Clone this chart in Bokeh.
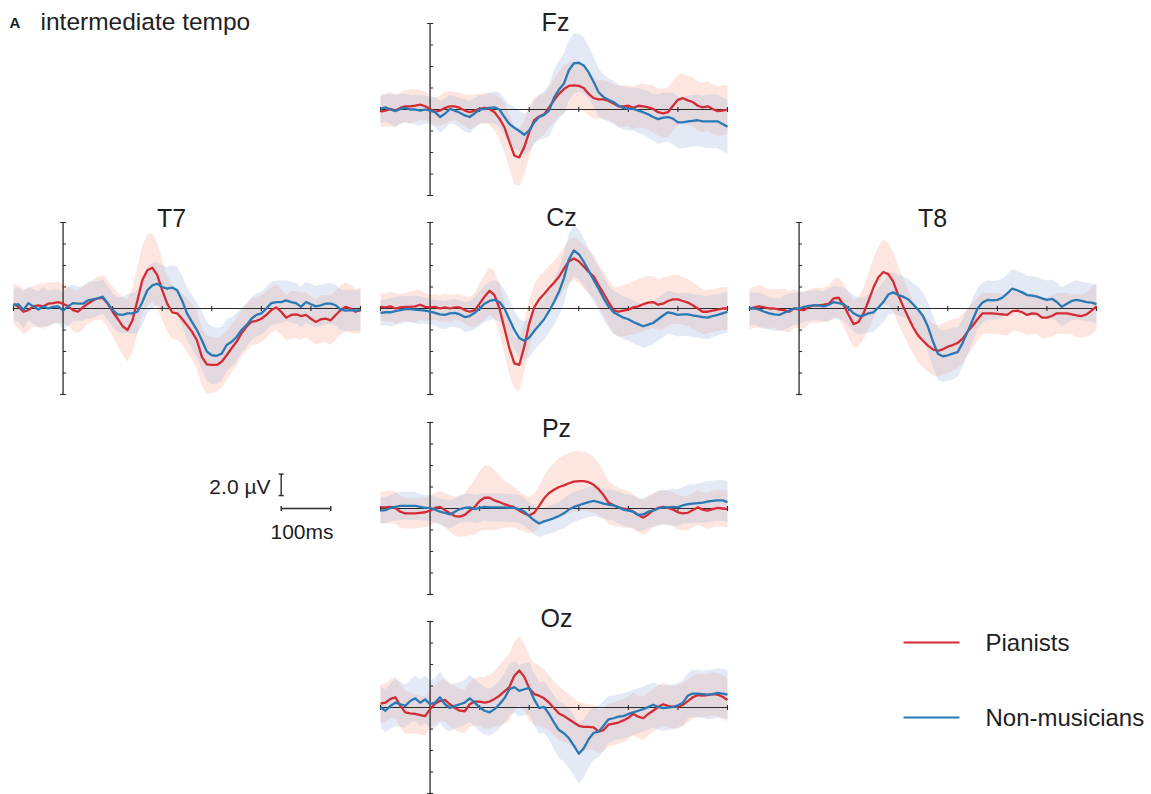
import numpy as np
from bokeh.plotting import figure
from bokeh.models import Range1d
from bokeh.embed import file_html
from bokeh.resources import INLINE
from bokeh.core.properties import value

# ---------------- data (µV, sampled every 10 ms from -100 to 600 ms) ----------------
TIME_MS = list(range(-100, 601, 10))
X_TICKS_MS = [-100, 100, 200, 300, 400, 500, 600]
Y_TICKS_UV = [-8, -6, -4, -2, 0, 2, 4, 6, 8]
GROUPS = ["Pianists", "Non-musicians"]
CHANNELS = ["Fz", "T7", "Cz", "T8", "Pz", "Oz"]
SCALE_UV = 2.0
SCALE_MS = 100

FZ_PIANISTS = [-0.2, -0.1, 0.05, -0.1, 0.15, 0.3, 0.3, 0.35, 0.45, 0.3,
               0.05, -0.2, -0.1, 0.15, 0.3, 0.3, 0.15, -0.1, -0.25, -0.1,
               0.05, 0.15, 0.05, -0.25, -0.85, -1.65, -3.0, -4.3, -4.45, -3.5,
               -2.1, -1.0, -0.65, -0.45, 0.2, 0.85, 1.45, 1.9, 2.2, 2.25,
               2.2, 2.0, 1.45, 1.05, 0.95, 0.95, 0.8, 0.55, 0.3, 0.3,
               0.35, 0.15, 0.35, 0.3, 0.2, 0.05, -0.25, -0.35, -0.25, 0.35,
               0.9, 1.05, 0.85, 0.7, 0.35, 0.2, 0.3, 0.05, -0.15, -0.1,
               0.0]
FZ_PIANISTS_CI = [1.4, 1.5, 1.6, 1.5, 1.4, 1.5, 1.6, 1.5, 1.4, 1.3,
                  1.2, 1.3, 1.4, 1.5, 1.4, 1.3, 1.4, 1.5, 1.6, 1.5,
                  1.4, 1.4, 1.5, 1.7, 2.0, 2.3, 2.5, 2.7, 2.7, 2.5,
                  2.3, 2.1, 2.0, 1.9, 1.9, 2.0, 2.1, 2.2, 2.2, 2.3,
                  2.2, 2.1, 2.0, 1.9, 1.8, 1.8, 1.8, 1.8, 1.9, 1.9,
                  1.9, 2.0, 2.0, 2.1, 2.1, 2.2, 2.2, 2.3, 2.3, 2.3,
                  2.3, 2.3, 2.3, 2.3, 2.3, 2.3, 2.3, 2.3, 2.3, 2.3,
                  2.3]
FZ_NONMUS = [0.05, 0.2, 0.0, -0.15, 0.05, 0.15, 0.0, 0.0, -0.1, 0.0,
             -0.1, -0.25, -0.7, -0.4, 0.05, -0.1, -0.3, -0.55, -0.7, -0.35,
             0.0, 0.05, 0.15, 0.2, 0.0, -0.7, -1.35, -1.7, -2.0, -2.35,
             -1.95, -1.2, -0.7, -0.5, -0.1, 1.1, 1.85, 2.4, 3.65, 4.3,
             4.35, 4.1, 3.45, 2.55, 1.6, 1.15, 0.9, 0.7, 0.35, 0.15,
             0.05, 0.05, -0.1, -0.25, -0.45, -0.7, -0.9, -0.75, -0.7, -0.85,
             -1.2, -1.2, -1.1, -1.05, -1.0, -1.1, -1.1, -1.1, -1.1, -1.35,
             -1.6]
FZ_NONMUS_CI = [1.3, 1.3, 1.4, 1.5, 1.4, 1.3, 1.3, 1.4, 1.4, 1.3,
                1.3, 1.4, 1.5, 1.4, 1.3, 1.3, 1.4, 1.5, 1.5, 1.4,
                1.3, 1.3, 1.4, 1.5, 1.6, 1.7, 1.8, 1.9, 1.9, 1.9,
                1.9, 2.0, 2.1, 2.2, 2.4, 2.6, 2.7, 2.8, 2.8, 2.8,
                2.7, 2.6, 2.4, 2.3, 2.2, 2.1, 2.0, 2.0, 2.0, 2.0,
                2.0, 2.0, 2.1, 2.1, 2.2, 2.2, 2.3, 2.3, 2.3, 2.4,
                2.4, 2.4, 2.4, 2.4, 2.4, 2.4, 2.5, 2.5, 2.5, 2.5,
                2.5]

T7_PIANISTS = [0.45, 0.15, -0.3, -0.15, 0.2, 0.3, 0.2, 0.45, 0.5, 0.6,
               0.45, 0.2, -0.15, -0.3, 0.1, 0.45, 0.75, 0.95, 1.0, 0.45,
               -0.3, -0.95, -1.65, -2.0, -1.1, 0.75, 2.65, 3.55, 3.8, 3.1,
               1.7, 0.45, -0.35, -0.45, -0.95, -1.55, -2.15, -2.95, -4.5, -5.2,
               -5.25, -5.25, -4.95, -4.35, -3.7, -3.1, -2.3, -1.7, -1.25, -1.15,
               -0.95, -0.6, -0.15, 0.1, -0.3, -0.85, -0.6, -0.55, -0.7, -0.6,
               -0.95, -1.25, -1.0, -0.95, -1.1, -0.6, -0.15, 0.15, 0.0, -0.3,
               -0.15]
T7_PIANISTS_CI = [1.9, 2.0, 2.1, 2.0, 1.9, 2.0, 2.1, 2.0, 1.9, 1.9,
                  1.8, 1.8, 1.9, 2.0, 2.0, 1.9, 1.9, 2.0, 2.1, 2.2,
                  2.3, 2.5, 2.7, 2.9, 3.0, 3.1, 3.2, 3.3, 3.2, 3.0,
                  2.8, 2.6, 2.5, 2.4, 2.4, 2.5, 2.6, 2.7, 2.7, 2.7,
                  2.6, 2.5, 2.4, 2.3, 2.2, 2.2, 2.2, 2.2, 2.2, 2.2,
                  2.2, 2.2, 2.1, 2.1, 2.1, 2.1, 2.2, 2.2, 2.2, 2.1,
                  2.1, 2.1, 2.2, 2.2, 2.3, 2.3, 2.3, 2.3, 2.2, 2.1,
                  2.1]
T7_NONMUS = [0.3, 0.4, -0.15, 0.5, 0.2, -0.1, 0.2, 0.0, 0.15, 0.2,
             -0.2, 0.2, 0.5, 0.45, 0.45, 0.75, 0.85, 0.95, 1.1, 0.5,
             -0.15, -0.55, -0.6, -0.45, -0.45, -0.3, 0.6, 1.7, 2.15, 2.3,
             2.0, 1.85, 1.95, 1.7, 0.75, -0.45, -1.25, -2.0, -2.95, -4.0,
             -4.35, -4.4, -4.2, -3.4, -3.1, -2.65, -2.0, -1.55, -0.95, -0.6,
             -0.45, 0.0, 0.5, 0.6, 0.6, 0.75, 0.6, 0.5, 0.15, 0.6,
             0.4, 0.2, 0.3, 0.45, 0.45, 0.3, -0.1, -0.2, -0.15, -0.2,
             -0.15]
T7_NONMUS_CI = [1.5, 1.6, 1.7, 1.6, 1.6, 1.7, 1.8, 1.7, 1.6, 1.6,
                1.7, 1.8, 1.7, 1.6, 1.6, 1.7, 1.7, 1.6, 1.6, 1.6,
                1.6, 1.6, 1.7, 1.8, 1.9, 2.0, 2.1, 2.1, 2.1, 2.0,
                2.0, 2.0, 2.1, 2.2, 2.3, 2.4, 2.5, 2.6, 2.7, 2.7,
                2.7, 2.6, 2.5, 2.4, 2.3, 2.2, 2.1, 2.0, 2.0, 2.0,
                2.0, 2.0, 2.0, 2.0, 2.0, 1.9, 1.9, 1.9, 1.9, 1.9,
                1.9, 1.9, 1.9, 1.9, 1.9, 1.9, 1.9, 1.9, 1.9, 1.9,
                1.9]

CZ_PIANISTS = [0.15, 0.1, 0.2, 0.0, 0.1, 0.15, 0.15, 0.2, 0.35, 0.15,
               0.1, 0.15, 0.0, 0.1, 0.0, 0.1, 0.1, -0.15, -0.3, -0.15,
               0.45, 1.1, 1.65, 1.25, 0.0, -1.85, -3.7, -5.1, -5.25, -3.55,
               -1.4, 0.1, 0.85, 1.35, 1.9, 2.4, 2.95, 3.7, 4.4, 4.65,
               4.4, 3.9, 3.4, 3.0, 2.15, 1.4, 0.6, -0.15, -0.3, -0.2,
               -0.1, 0.1, 0.2, 0.4, 0.55, 0.6, 0.35, 0.45, 0.7, 0.85,
               0.85, 0.7, 0.55, 0.3, 0.0, -0.3, -0.3, -0.2, -0.1, 0.0,
               0.0]
CZ_PIANISTS_CI = [1.3, 1.3, 1.4, 1.4, 1.3, 1.3, 1.4, 1.5, 1.4, 1.3,
                  1.2, 1.2, 1.2, 1.3, 1.3, 1.2, 1.2, 1.3, 1.4, 1.6,
                  1.9, 2.1, 2.2, 2.2, 2.3, 2.4, 2.4, 2.4, 2.4, 2.3,
                  2.2, 2.2, 2.2, 2.1, 2.1, 2.0, 2.0, 2.0, 2.0, 2.0,
                  2.0, 2.0, 2.0, 2.0, 2.0, 2.0, 2.1, 2.2, 2.3, 2.4,
                  2.4, 2.5, 2.5, 2.5, 2.5, 2.4, 2.4, 2.4, 2.3, 2.3,
                  2.3, 2.2, 2.2, 2.2, 2.1, 2.1, 2.0, 2.0, 2.0, 2.0,
                  2.0]
CZ_NONMUS = [-0.4, -0.35, -0.35, -0.25, -0.15, -0.05, -0.05, -0.1, -0.15, -0.2,
             -0.3, -0.4, -0.55, -0.6, -0.45, -0.4, -0.55, -0.8, -0.7, -0.4,
             0.0, 0.45, 0.7, 0.8, 0.6, 0.0, -1.0, -2.0, -2.75, -3.0,
             -2.7, -2.1, -1.55, -1.0, -0.25, 0.6, 1.55, 2.8, 4.55, 5.4,
             5.05, 4.35, 3.5, 2.65, 1.85, 0.95, 0.2, -0.35, -0.6, -0.85,
             -1.0, -1.25, -1.45, -1.65, -1.5, -1.35, -1.0, -0.65, -0.35, -0.45,
             -0.6, -0.55, -0.55, -0.65, -0.7, -0.8, -0.85, -0.7, -0.6, -0.45,
             -0.3]
CZ_NONMUS_CI = [1.2, 1.2, 1.3, 1.3, 1.3, 1.2, 1.2, 1.3, 1.3, 1.2,
                1.2, 1.2, 1.3, 1.3, 1.3, 1.3, 1.3, 1.4, 1.4, 1.5,
                1.6, 1.7, 1.8, 1.8, 1.8, 1.8, 1.8, 1.8, 1.8, 1.8,
                1.8, 1.8, 1.8, 1.9, 2.0, 2.1, 2.2, 2.3, 2.4, 2.4,
                2.3, 2.2, 2.1, 2.0, 2.0, 2.0, 2.0, 2.0, 2.0, 2.0,
                2.0, 2.0, 2.0, 2.0, 2.0, 2.0, 2.0, 2.0, 2.0, 2.0,
                2.0, 2.0, 2.0, 2.0, 2.0, 2.0, 2.0, 2.0, 1.9, 1.9,
                1.9]

T8_PIANISTS = [0.0, 0.1, 0.2, 0.1, 0.0, 0.0, -0.1, -0.15, -0.3, 0.0,
               -0.1, -0.15, 0.15, 0.3, 0.3, 0.35, 0.45, 0.95, 1.0, 0.3,
               -0.6, -1.45, -1.25, -0.45, 0.7, 1.95, 2.9, 3.4, 3.2, 2.5,
               1.25, 0.2, -0.8, -1.75, -2.5, -3.0, -3.45, -3.8, -3.95, -3.8,
               -3.55, -3.4, -3.2, -2.8, -2.15, -1.6, -1.0, -0.45, -0.45, -0.45,
               -0.5, -0.55, -0.6, -0.25, -0.2, -0.35, -0.6, -0.45, -0.5, -0.85,
               -0.85, -0.7, -0.45, -0.45, -0.45, -0.55, -0.65, -0.7, -0.55, -0.2,
               0.2]
T8_PIANISTS_CI = [1.9, 1.9, 2.0, 1.9, 1.8, 1.8, 1.9, 2.0, 1.9, 1.8,
                  1.7, 1.7, 1.6, 1.6, 1.6, 1.6, 1.7, 1.8, 1.9, 2.0,
                  2.1, 2.2, 2.3, 2.4, 2.6, 2.8, 2.9, 3.0, 2.9, 2.8,
                  2.7, 2.6, 2.5, 2.5, 2.5, 2.5, 2.4, 2.4, 2.4, 2.4,
                  2.4, 2.4, 2.3, 2.3, 2.2, 2.1, 2.0, 1.9, 1.9, 1.9,
                  1.9, 1.9, 1.9, 1.9, 1.9, 1.9, 1.9, 1.9, 1.9, 1.9,
                  1.9, 1.9, 1.9, 1.9, 1.9, 1.9, 2.0, 2.0, 2.1, 2.2,
                  2.2]
T8_NONMUS = [0.0, 0.0, -0.1, -0.3, -0.45, -0.55, -0.6, -0.4, -0.2, 0.0,
             0.0, 0.15, 0.25, 0.3, 0.3, 0.2, 0.35, 0.6, 0.5, 0.4,
             0.0, -0.45, -0.7, -0.65, -0.45, -0.35, 0.1, 0.6, 1.3, 1.5,
             1.25, 1.1, 0.85, 0.4, -0.1, -0.7, -1.7, -3.05, -4.2, -4.45,
             -4.35, -4.2, -4.05, -3.2, -2.15, -1.1, 0.0, 0.55, 0.8, 0.75,
             0.8, 1.0, 1.4, 1.85, 1.7, 1.5, 1.25, 1.2, 1.1, 0.95,
             0.8, 0.9, 0.6, 0.15, 0.45, 0.7, 0.8, 0.7, 0.6, 0.55,
             0.4]
T8_NONMUS_CI = [1.5, 1.5, 1.6, 1.6, 1.5, 1.5, 1.5, 1.6, 1.6, 1.5,
                1.5, 1.4, 1.4, 1.4, 1.4, 1.4, 1.5, 1.5, 1.5, 1.5,
                1.6, 1.7, 1.7, 1.7, 1.8, 1.8, 1.8, 1.9, 1.9, 1.9,
                1.9, 1.9, 1.9, 2.0, 2.1, 2.2, 2.3, 2.4, 2.4, 2.4,
                2.4, 2.4, 2.3, 2.2, 2.1, 2.0, 1.9, 1.9, 1.8, 1.8,
                1.8, 1.8, 1.8, 1.8, 1.8, 1.8, 1.8, 1.8, 1.8, 1.8,
                1.8, 1.8, 1.8, 1.8, 1.8, 1.8, 1.8, 1.8, 1.8, 1.8,
                1.8]

PZ_PIANISTS = [0.1, 0.1, 0.15, 0.05, -0.3, -0.45, -0.45, -0.45, -0.4, -0.35,
               -0.2, 0.05, 0.15, -0.15, -0.45, -0.7, -0.75, -0.6, -0.2, 0.15,
               0.7, 1.0, 1.0, 0.75, 0.6, 0.4, 0.25, 0.1, -0.2, -0.45,
               -0.65, -0.4, 0.25, 0.95, 1.45, 1.75, 2.0, 2.15, 2.35, 2.5,
               2.55, 2.55, 2.45, 2.2, 1.8, 1.25, 0.55, 0.3, 0.1, 0.0,
               -0.1, -0.3, -0.6, -0.85, -0.55, -0.15, 0.05, 0.15, 0.05, -0.1,
               -0.35, -0.45, -0.4, -0.15, 0.1, -0.1, -0.2, -0.05, 0.05, 0.0,
               -0.05]
PZ_PIANISTS_CI = [1.5, 1.5, 1.5, 1.5, 1.5, 1.4, 1.4, 1.4, 1.4, 1.4,
                  1.4, 1.4, 1.5, 1.6, 1.7, 1.8, 1.9, 2.0, 2.3, 2.6,
                  2.8, 3.0, 3.0, 2.8, 2.5, 2.2, 2.0, 1.9, 1.8, 1.7,
                  1.7, 1.8, 1.9, 2.1, 2.3, 2.5, 2.7, 2.8, 2.8, 2.8,
                  2.8, 2.7, 2.7, 2.6, 2.4, 2.2, 2.0, 1.9, 1.8, 1.8,
                  1.7, 1.6, 1.6, 1.6, 1.6, 1.6, 1.6, 1.6, 1.6, 1.6,
                  1.6, 1.6, 1.6, 1.6, 1.6, 1.6, 1.7, 1.7, 1.7, 1.7,
                  1.7]
PZ_NONMUS = [-0.2, -0.15, 0.05, 0.15, 0.25, 0.25, 0.25, 0.25, 0.15, 0.05,
             0.05, -0.1, -0.3, -0.4, -0.55, -0.3, -0.05, 0.05, 0.1, -0.05,
             0.05, 0.15, 0.1, 0.1, 0.1, 0.1, 0.05, 0.05, -0.05, -0.3,
             -0.7, -1.1, -1.4, -1.2, -1.05, -0.9, -0.7, -0.45, -0.1, 0.15,
             0.3, 0.45, 0.6, 0.7, 0.6, 0.45, 0.35, 0.3, 0.1, -0.1,
             -0.2, -0.3, -0.6, -0.55, -0.3, -0.2, 0.0, 0.1, 0.1, 0.15,
             0.1, 0.3, 0.4, 0.45, 0.5, 0.55, 0.65, 0.7, 0.75, 0.75,
             0.6]
PZ_NONMUS_CI = [1.2, 1.2, 1.2, 1.3, 1.3, 1.3, 1.3, 1.3, 1.2, 1.2,
                1.2, 1.2, 1.2, 1.3, 1.3, 1.3, 1.3, 1.3, 1.3, 1.3,
                1.3, 1.3, 1.3, 1.3, 1.3, 1.3, 1.3, 1.3, 1.3, 1.3,
                1.3, 1.3, 1.3, 1.3, 1.3, 1.3, 1.3, 1.4, 1.4, 1.4,
                1.4, 1.4, 1.4, 1.4, 1.4, 1.4, 1.4, 1.4, 1.5, 1.5,
                1.5, 1.5, 1.5, 1.5, 1.5, 1.5, 1.6, 1.6, 1.6, 1.7,
                1.7, 1.7, 1.8, 1.8, 1.8, 1.9, 1.9, 1.9, 1.9, 1.9,
                1.9]

OZ_PIANISTS = [0.35, 0.45, 0.8, 0.95, 0.15, -0.45, -0.55, -0.6, -0.7, -0.8,
               -0.15, 0.35, 0.6, 0.7, 0.3, -0.05, -0.3, -0.35, 0.3, 0.55,
               0.55, 0.45, 0.55, 0.8, 1.1, 1.5, 1.9, 2.95, 3.45, 2.85,
               1.8, 1.25, 1.1, 0.85, 0.45, -0.05, -0.55, -0.8, -1.1, -1.4,
               -1.7, -1.8, -1.8, -1.85, -2.25, -2.1, -1.6, -1.5, -1.4, -1.2,
               -0.95, -0.6, -0.85, -1.0, -0.6, -0.3, 0.05, 0.3, 0.15, 0.05,
               0.05, 0.25, 0.6, 0.95, 1.15, 1.1, 1.15, 1.25, 1.2, 1.0,
               0.7]
OZ_PIANISTS_CI = [1.8, 1.8, 1.8, 1.9, 2.0, 2.0, 1.9, 1.8, 1.8, 1.8,
                  1.8, 1.8, 1.9, 2.0, 2.0, 2.0, 2.0, 2.0, 2.1, 2.2,
                  2.3, 2.4, 2.5, 2.6, 2.8, 3.0, 3.1, 3.2, 3.2, 3.1,
                  3.0, 2.9, 2.8, 2.7, 2.6, 2.5, 2.5, 2.4, 2.3, 2.3,
                  2.2, 2.2, 2.1, 2.1, 2.0, 2.0, 2.0, 2.0, 2.0, 2.0,
                  2.0, 2.0, 2.0, 2.0, 2.0, 2.0, 2.0, 2.0, 2.0, 2.0,
                  2.0, 2.0, 2.0, 2.0, 2.0, 2.0, 2.0, 2.0, 2.0, 2.0,
                  2.0]
OZ_NONMUS = [0.05, -0.3, 0.15, 0.45, 0.3, 0.15, 0.6, 0.85, 0.45, 0.75,
             0.3, 0.45, 0.95, 0.3, -0.05, 0.15, 0.3, 0.45, 0.85, 0.45,
             0.0, -0.3, -0.45, -0.15, 0.3, 0.85, 1.7, 1.9, 1.55, 1.7,
             1.8, 0.75, -0.05, 0.05, -0.6, -1.4, -2.1, -2.4, -2.85, -3.55,
             -4.3, -3.8, -2.95, -2.35, -2.25, -1.7, -1.1, -1.0, -0.85, -0.8,
             -0.6, -0.45, -0.3, -0.15, 0.05, 0.25, 0.05, -0.05, 0.0, 0.05,
             0.2, 0.45, 1.1, 1.3, 1.3, 1.25, 1.2, 1.25, 1.35, 1.3,
             1.2]
OZ_NONMUS_CI = [1.9, 2.0, 2.1, 2.2, 2.1, 2.0, 2.0, 2.1, 2.2, 2.2,
                2.2, 2.3, 2.4, 2.3, 2.2, 2.1, 2.1, 2.1, 2.2, 2.2,
                2.2, 2.2, 2.2, 2.2, 2.2, 2.3, 2.4, 2.4, 2.4, 2.4,
                2.4, 2.4, 2.4, 2.4, 2.4, 2.5, 2.6, 2.7, 2.8, 2.8,
                2.8, 2.7, 2.6, 2.5, 2.4, 2.3, 2.2, 2.1, 2.1, 2.1,
                2.1, 2.1, 2.1, 2.1, 2.1, 2.1, 2.1, 2.1, 2.1, 2.1,
                2.1, 2.1, 2.1, 2.2, 2.2, 2.2, 2.3, 2.3, 2.3, 2.3,
                2.3]

DATA = {
    "Fz": (FZ_PIANISTS, FZ_PIANISTS_CI, FZ_NONMUS, FZ_NONMUS_CI),
    "T7": (T7_PIANISTS, T7_PIANISTS_CI, T7_NONMUS, T7_NONMUS_CI),
    "Cz": (CZ_PIANISTS, CZ_PIANISTS_CI, CZ_NONMUS, CZ_NONMUS_CI),
    "T8": (T8_PIANISTS, T8_PIANISTS_CI, T8_NONMUS, T8_NONMUS_CI),
    "Pz": (PZ_PIANISTS, PZ_PIANISTS_CI, PZ_NONMUS, PZ_NONMUS_CI),
    "Oz": (OZ_PIANISTS, OZ_PIANISTS_CI, OZ_NONMUS, OZ_NONMUS_CI),
}

# ---------------- layout / style ----------------
W, H = 1151, 794
PX_PER_MS = 347.0 / 700.0
PX_PER_UV = 10.75
COL_START_PX = {"left": 13, "center": 380, "right": 749}
ROW_ZERO_PX = {"r1": 109, "r2": 308, "r3": 508, "r4": 707}
PANEL_POS = {  # channel -> (column, row, title x px, title middle px)
    "Fz": ("center", "r1", 555, 21),
    "T7": ("left", "r2", 171, 217),
    "Cz": ("center", "r2", 561, 216),
    "T8": ("right", "r2", 932, 217),
    "Pz": ("center", "r3", 556, 427),
    "Oz": ("center", "r4", 556, 617),
}
RED = "#d52b35"
BLUE = "#2a79b5"
RED_BAND = "#f5b29a"
BLUE_BAND = "#a7bbdd"
AXIS = "#2b2b2b"
TEXT = "#1e1e1e"
FONT = value("Liberation Sans")

p = figure(width=W, height=H, x_range=Range1d(0, W), y_range=Range1d(H, 0),
           x_axis_type=None, y_axis_type=None, toolbar_location=None,
           output_backend="svg", min_border=0, title=None,
           outline_line_color=None, background_fill_color="white",
           border_fill_color="white")

t0 = TIME_MS[0]
p.extra_x_ranges = {c: Range1d(t0 - a / PX_PER_MS, t0 + (W - a) / PX_PER_MS)
                    for c, a in COL_START_PX.items()}
p.extra_y_ranges = {r: Range1d(-(H - z) / PX_PER_UV, z / PX_PER_UV)
                    for r, z in ROW_ZERO_PX.items()}

t = np.array(TIME_MS, dtype=float)
for ch in CHANNELS:
    col, row, tx, ty = PANEL_POS[ch]
    pia, pia_ci, non, non_ci = [np.array(a, dtype=float) for a in DATA[ch]]
    kw = dict(x_range_name=col, y_range_name=row)
    # confidence bands
    p.varea(x=t, y1=pia - pia_ci, y2=pia + pia_ci, fill_color=RED_BAND, fill_alpha=0.32, **kw)
    p.varea(x=t, y1=non - non_ci, y2=non + non_ci, fill_color=BLUE_BAND, fill_alpha=0.30, **kw)
    # axes crossing at (0 ms, 0 µV)
    p.line(x=[TIME_MS[0], TIME_MS[-1]], y=[0, 0], line_color=AXIS, line_width=1.1, **kw)
    p.line(x=[0, 0], y=[Y_TICKS_UV[0], Y_TICKS_UV[-1]], line_color=AXIS, line_width=1.3, **kw)
    p.scatter(x=X_TICKS_MS, y=[0] * len(X_TICKS_MS), marker="dash", angle=np.pi / 2,
              size=5, line_color=AXIS, line_width=1.1, **kw)
    p.ray(x=[0] * len(Y_TICKS_UV), y=Y_TICKS_UV, length=3, angle=0, length_units="screen",
          line_color=AXIS, line_width=1.1, **kw)
    p.scatter(x=[0, 0], y=[Y_TICKS_UV[0], Y_TICKS_UV[-1]], marker="dash", size=6,
              line_color=AXIS, line_width=1.1, **kw)
    # group means
    p.line(x=t, y=pia, line_color=RED, line_width=2.3, line_join="round", **kw)
    p.line(x=t, y=non, line_color=BLUE, line_width=2.3, line_join="round", **kw)
    # channel title
    p.text(x=[tx], y=[ty], text=[ch], text_font=FONT, text_font_size="25px",
           text_align="center", text_baseline="middle", text_color=TEXT)

# scale bar (drawn in the left column / third row data space)
SB_T, SB_V = 440, 1.2
kw = dict(x_range_name="left", y_range_name="r3")
p.line(x=[SB_T, SB_T + SCALE_MS], y=[0, 0], line_color=AXIS, line_width=1.4, **kw)
p.scatter(x=[SB_T, SB_T + SCALE_MS], y=[0, 0], marker="dash", angle=np.pi / 2, size=5,
          line_color=AXIS, line_width=1.4, **kw)
p.line(x=[SB_T, SB_T], y=[SB_V, SB_V + SCALE_UV], line_color=AXIS, line_width=1.4, **kw)
p.scatter(x=[SB_T, SB_T], y=[SB_V, SB_V + SCALE_UV], marker="dash", size=5,
          line_color=AXIS, line_width=1.4, **kw)
p.text(x=[270], y=[486], text=[f"{SCALE_UV:.1f} µV"], text_font=FONT, text_font_size="21px",
       text_align="right", text_baseline="middle", text_color=TEXT)
p.text(x=[270], y=[531], text=[f"{SCALE_MS}ms"], text_font=FONT, text_font_size="21px",
       text_align="left", text_baseline="middle", text_color=TEXT)

# panel label
p.text(x=[9], y=[22], text=["A"], text_font=FONT, text_font_size="15px",
       text_font_style="bold", text_align="left", text_baseline="middle", text_color=TEXT)
p.text(x=[40], y=[21], text=["intermediate tempo"], text_font=FONT, text_font_size="24.5px",
       text_align="left", text_baseline="middle", text_color=TEXT)

# legend
for grp, color, ly in zip(GROUPS, [RED, BLUE], [642, 717]):
    p.line(x=[903, 959], y=[ly, ly], line_color=color, line_width=1.8)
    p.text(x=[985], y=[ly], text=[grp], text_font=FONT, text_font_size="24px",
           text_align="left", text_baseline="middle", text_color=TEXT)

with open("out.html", "w", encoding="utf-8") as f:
    f.write(file_html(p, INLINE))
